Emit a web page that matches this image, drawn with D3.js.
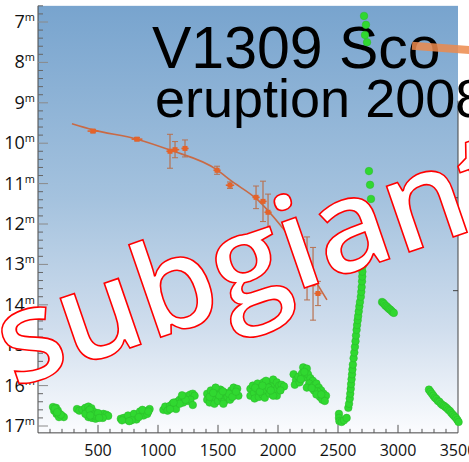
<!DOCTYPE html>
<html><head><meta charset="utf-8">
<script src="https://cdn.jsdelivr.net/npm/d3@7"></script>
<style>html,body{margin:0;padding:0;background:#fff;overflow:hidden}</style>
</head><body><svg id="chart" width="469" height="462"></svg>
<script>
// Axis ticks
const timeTicks = [500, 1000, 1500, 2000, 2500, 3000, 3500];
const magTicks = [7, 8, 9, 10, 11, 12, 13, 14, 15, 16, 17];

// OGLE photometry of V1309 Sco: [time, magnitude]
const quiescence1 = [[125,16.53],[150,16.55],[135,16.62],[165,16.62],[155,16.70],[180,16.70],[200,16.75],[215,16.78],[175,16.78],[190,16.72],[140,16.57],[160,16.66]];
const quiescence2 = [[325,16.58],[345,16.62],[370,16.60],[395,16.55],[420,16.52],[445,16.56],[410,16.65],[440,16.68],[470,16.66],[420,16.78],[450,16.80],[480,16.82],[500,16.75],[520,16.72],[545,16.70],[570,16.72],[585,16.75],[540,16.80],[470,16.75],[395,16.70],[430,16.60],[460,16.72],[500,16.68],[435,16.74],[510,16.80]];
const quiescence3 = [[690,16.82],[715,16.80],[740,16.84],[760,16.80],[780,16.76],[805,16.78],[830,16.72],[855,16.70],[880,16.66],[905,16.63],[930,16.58],[750,16.74],[800,16.70],[850,16.64],[880,16.74],[820,16.84],[910,16.70],[780,16.86],[700,16.86],[840,16.78],[760,16.88],[870,16.60],[920,16.64]];
const quiescence4 = [[1045,16.60],[1060,16.52],[1080,16.62],[1100,16.50],[1120,16.45],[1140,16.50],[1160,16.40],[1180,16.35],[1200,16.32],[1220,16.28],[1245,16.26],[1270,16.22],[1290,16.20],[1305,16.25],[1250,16.38],[1210,16.42],[1150,16.58],[1270,16.35],[1290,16.48],[1100,16.58],[1180,16.45],[1230,16.35],[1130,16.42],[1200,16.24]];
const quiescence5 = [[1410,16.20],[1410,16.35],[1430,16.42],[1440,16.12],[1460,16.30],[1470,16.45],[1490,16.20],[1500,16.38],[1520,16.10],[1530,16.30],[1550,16.40],[1560,16.18],[1580,16.28],[1600,16.35],[1610,16.12],[1630,16.05],[1640,16.22],[1660,16.08],[1670,16.25],[1545,16.45],[1480,16.05],[1430,16.28],[1510,16.24],[1590,16.20],[1620,16.28],[1460,16.18],[1540,16.14],[1650,16.15]];
const quiescence6 = [[1770,16.08],[1770,16.25],[1790,16.00],[1800,16.18],[1805,16.32],[1830,15.95],[1835,16.12],[1840,16.28],[1860,16.05],[1870,16.22],[1880,15.92],[1890,16.30],[1900,16.10],[1920,15.92],[1930,16.20],[1950,16.02],[1960,15.85],[1975,16.12],[1990,15.92],[2010,16.00],[2030,15.98],[2050,16.02],[1990,16.25],[1900,15.88],[1810,16.05],[1850,16.15],[1920,16.05],[1960,16.25],[2020,16.12],[1870,16.00],[1940,16.12]];
const quiescence7 = [[2210,15.55],[2240,15.58],[2130,15.72],[2150,15.86],[2140,15.98],[2170,15.78],[2180,15.92],[2200,15.70],[2220,15.80],[2250,15.72],[2270,15.82],[2290,15.88],[2260,15.95],[2240,16.05],[2300,16.00],[2320,15.95],[2340,16.05],[2360,16.12],[2380,16.20],[2400,16.25],[2330,16.15],[2350,16.28],[2370,16.35],[2390,16.38],[2300,16.12],[2220,15.66],[2280,16.06],[2320,16.22],[2360,16.22],[2190,15.84]];
const rise = [[2508,16.70],[2508,16.80],[2512,16.88],[2530,16.90],[2550,16.86],[2572,16.80],[2586,16.55],[2592,16.45],[2598,16.32],[2602,16.20],[2606,16.08],[2609,15.96],[2613,15.84],[2617,15.72],[2620,15.60],[2624,15.48],[2630,15.32],[2636,15.18],[2641,15.04],[2646,14.90],[2650,14.76],[2655,14.62],[2659,14.50],[2664,14.38],[2668,14.28],[2673,14.16],[2678,14.04],[2683,13.93],[2690,13.80],[2694,13.68],[2697,13.56],[2700,13.42],[2702,13.30],[2703,13.18],[2705,13.04],[2708,11.68]];
const peak = [[2717,6.85],[2733,7.07],[2725,7.32],[2742,7.50]];
const decline = [[2758,10.69],[2767,11.03],[2775,11.38]];
const fading = [[2867,13.93],[2875,13.95],[2885,13.98],[2895,14.02],[2905,14.04],[2915,14.07],[2925,14.10],[2935,14.12],[2945,14.15],[2955,14.18],[2965,14.20]];
const late = [[3258,16.10],[3270,16.15],[3283,16.20],[3295,16.25],[3308,16.30],[3320,16.33],[3333,16.38],[3345,16.40],[3358,16.45],[3370,16.48],[3383,16.50],[3395,16.53],[3408,16.56],[3420,16.60],[3433,16.63],[3445,16.68],[3458,16.72],[3470,16.76],[3483,16.80],[3495,16.85],[3505,16.90]];

// Progenitor fit and binned measurements: [time, mag, timeErr, magErr]
const modelCurve = [[283,9.52],[458,9.67],[825,9.90],[1100,10.17],[1492,10.66],[1600,10.91],[1833,11.41],[2017,12.02],[2158,12.57],[2283,13.26],[2408,13.88]];
const binned = [[458,9.70,45,0.04],[825,9.90,45,0.04],[1100,10.20,30,0.42],[1142,10.16,35,0.20],[1225,10.13,30,0.21],[1492,10.67,30,0.10],[1600,11.04,35,0.08],[1817,11.34,30,0.28],[1875,11.44,30,0.50],[1917,11.71,30,0.45],[2200,12.66,30,0.27],[2242,13.10,30,0.78],[2292,13.48,30,0.90],[2333,13.72,30,0.30]];
const pointer = [[3117,7.59],[3700,7.72]];

const svg = d3.select("#chart");
const x = d3.scaleLinear().domain([0, 3500]).range([38, 458]);
const y = d3.scaleLinear().domain([7, 17]).range([22, 426]);
const magTop = 6.6, magBottom = 17.17;

// sky gradient background
const defs = svg.append("defs");
const grad = defs.append("linearGradient").attr("id", "sky").attr("x1", 0).attr("y1", 0).attr("x2", 0).attr("y2", 1);
[[0, "#78a4ce"], [0.45, "#a4c2de"], [0.75, "#cfdded"], [1, "#fbfcfe"]].forEach(([o, c]) =>
  grad.append("stop").attr("offset", o).attr("stop-color", c));
svg.append("rect").attr("x", x(0)).attr("y", y(magTop))
  .attr("width", x(3500) - x(0)).attr("height", y(magBottom) - y(magTop))
  .attr("fill", "url(#sky)");

// right frame piece
svg.append("line").attr("x1", x(3500)).attr("x2", x(3500)).attr("y1", y(8.95)).attr("y2", y(16.9))
  .attr("stroke", "#444").attr("stroke-width", 1);
[11.35, 13.65].forEach(m => svg.append("line").attr("x1", x(3500) - 5).attr("x2", x(3500))
  .attr("y1", y(m)).attr("y2", y(m)).attr("stroke", "#444"));

// y axis
const isWhole = d => Math.abs(d - Math.round(d)) < 1e-6;
const gy = svg.append("g");
gy.append("line").attr("x1", x(0)).attr("x2", x(0)).attr("y1", y(magTop)).attr("y2", y(magBottom)).attr("stroke", "#444");
const minor = d3.range(33, 86).map(i => i / 5);
gy.selectAll(".mn").data(minor).join("line")
  .attr("x1", x(0)).attr("x2", d => isWhole(d) ? x(0) + 10 : x(0) + 5)
  .attr("y1", d => y(d)).attr("y2", d => y(d))
  .attr("stroke", d => isWhole(d) ? "#8a8a8a" : "#666").attr("stroke-width", 1);
const ly = gy.selectAll(".lab").data(magTicks).join("text")
  .attr("x", 35).attr("y", d => y(d) + 6)
  .attr("text-anchor", "end").attr("font-family", "Open Sans, sans-serif").attr("font-size", 18).attr("fill", "#111");
ly.append("tspan").text(d => d);
ly.append("tspan").attr("font-size", 11).attr("dy", -7).text("m");

// x axis
const gx = svg.append("g");
gx.append("line").attr("x1", x(0)).attr("x2", x(3500)).attr("y1", y(magBottom)).attr("y2", y(magBottom)).attr("stroke", "#444");
gx.selectAll(".mt").data(d3.range(1, 36).map(i => i * 100)).join("line")
  .attr("x1", d => x(d)).attr("x2", d => x(d))
  .attr("y1", y(magBottom)).attr("y2", d => d % 500 === 0 ? y(magBottom) - 8 : y(magBottom) - 4)
  .attr("stroke", "#555");
gx.selectAll(".lab").data(timeTicks).join("text")
  .attr("x", d => x(d)).attr("y", 456).attr("text-anchor", "middle")
  .attr("font-family", "Open Sans, sans-serif").attr("font-size", 16).attr("fill", "#111").text(d => d);

// title
const title = svg.append("g").attr("font-family", "Liberation Sans, Arial, sans-serif").attr("fill", "#000");
title.append("text").attr("x", 152).attr("y", 68).attr("font-size", 59).text("V1309 Sco");
title.append("text").attr("x", 155).attr("y", 117).attr("font-size", 54).text("eruption 2008");

// progenitor fit
svg.append("path").datum(modelCurve)
  .attr("d", d3.line().x(d => x(d[0])).y(d => y(d[1])).curve(d3.curveMonotoneX))
  .attr("fill", "none").attr("stroke", "#c96a45").attr("stroke-width", 1.6);
const eb = svg.append("g").selectAll("g").data(binned).join("g");
eb.append("line").attr("x1", d => x(d[0])).attr("x2", d => x(d[0]))
  .attr("y1", d => y(d[1] - d[3])).attr("y2", d => y(d[1] + d[3])).attr("stroke", "#b8714f").attr("stroke-width", 1.2);
eb.append("line").attr("x1", d => x(d[0]) - 3).attr("x2", d => x(d[0]) + 3)
  .attr("y1", d => y(d[1] - d[3])).attr("y2", d => y(d[1] - d[3])).attr("stroke", "#b8714f");
eb.append("line").attr("x1", d => x(d[0]) - 3).attr("x2", d => x(d[0]) + 3)
  .attr("y1", d => y(d[1] + d[3])).attr("y2", d => y(d[1] + d[3])).attr("stroke", "#b8714f");
eb.append("line").attr("x1", d => x(d[0] - d[2])).attr("x2", d => x(d[0] + d[2]))
  .attr("y1", d => y(d[1])).attr("y2", d => y(d[1])).attr("stroke", "#e0652f").attr("stroke-width", 1.6);
eb.append("rect").attr("x", d => x(d[0]) - 2.5).attr("y", d => y(d[1]) - 2.5).attr("width", 5).attr("height", 5).attr("fill", "#e4632a");

// photometry
const green = [quiescence1, quiescence2, quiescence3, quiescence4, quiescence5, quiescence6, quiescence7, rise, peak, decline, fading, late].flat();
svg.append("g").selectAll("circle").data(green).join("circle")
  .attr("cx", d => x(d[0])).attr("cy", d => y(d[1])).attr("r", 3.8)
  .attr("fill", "#30d830").attr("stroke", "#2ab82a").attr("stroke-width", 0.5);

// pointer bar
svg.append("path").datum(pointer)
  .attr("d", d3.line().x(d => x(d[0])).y(d => y(d[1])))
  .attr("stroke", "#ec8a4c").attr("stroke-width", 8).attr("opacity", 0.85).attr("fill", "none");

// overlay label
svg.append("text").attr("transform", "translate(14,388) rotate(-19)")
  .attr("font-family", "Open Sans, sans-serif").attr("font-weight", 600).attr("font-size", 129)
  .attr("fill", "#fff").attr("stroke", "#f00").attr("stroke-width", 1.6)
  .text("subgiant");
</script></body></html>
